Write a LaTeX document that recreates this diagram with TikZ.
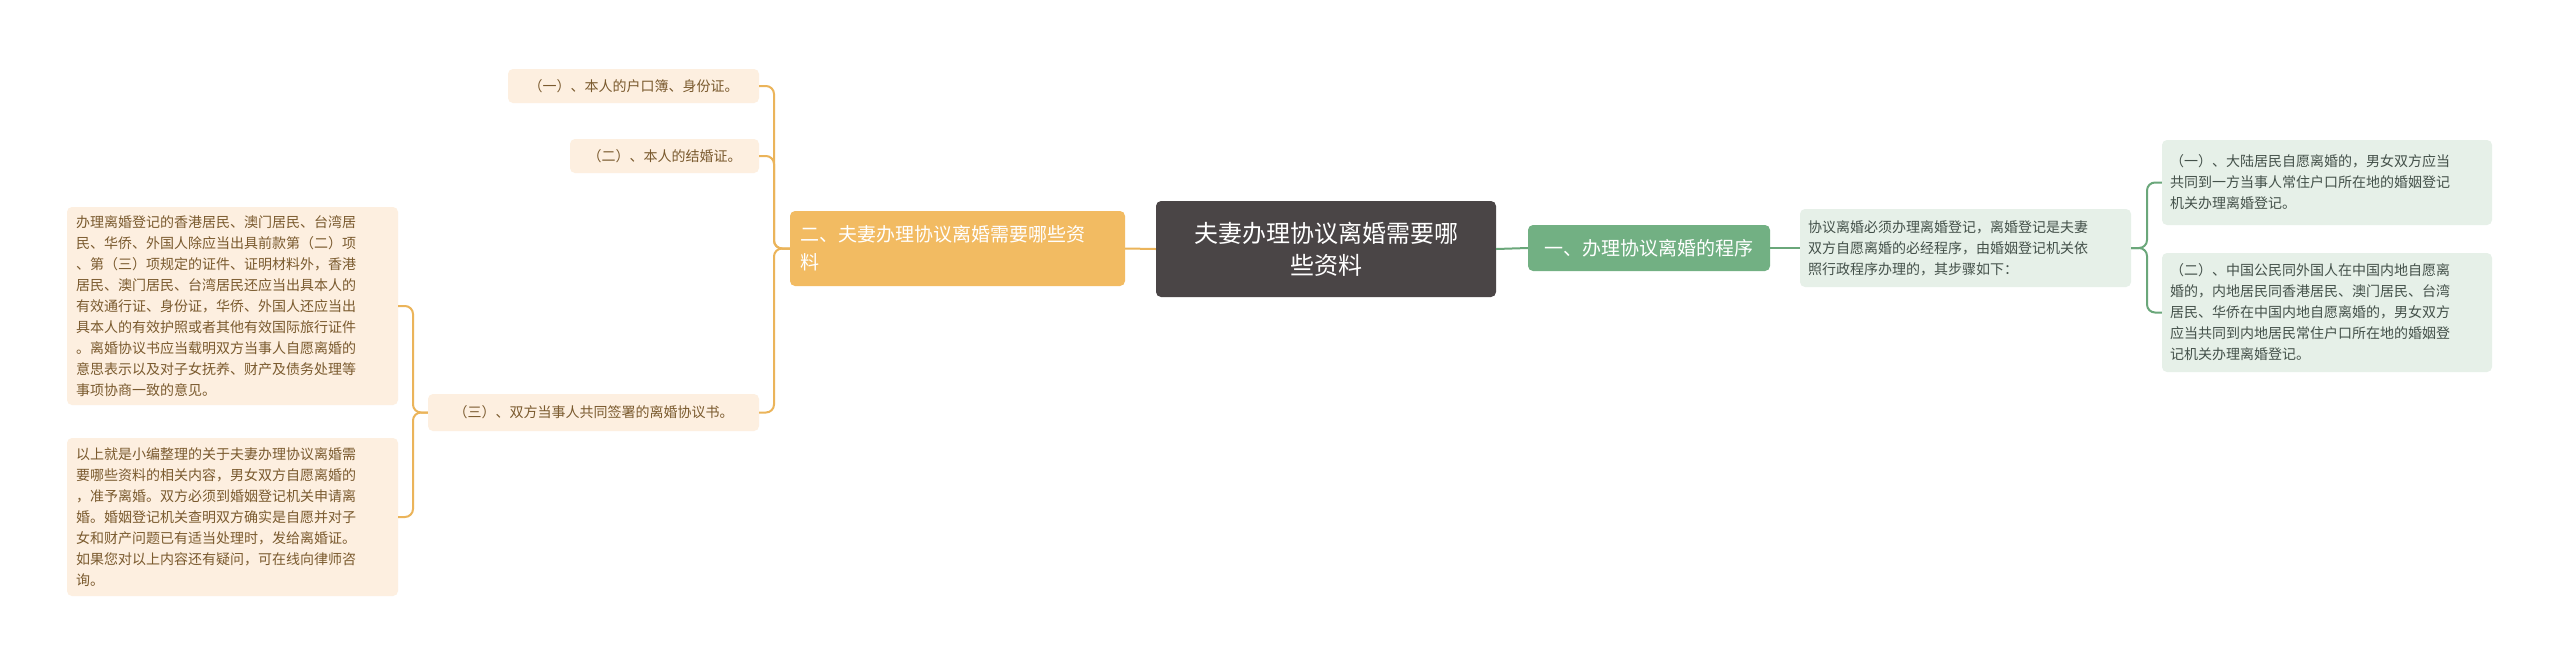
\documentclass[tikz,border=0pt]{standalone}
\usepackage{fontspec}
\setmainfont{Noto Sans CJK SC}
\usetikzlibrary{calc}
\definecolor{ctr}{HTML}{4A4546}
\definecolor{org}{HTML}{F2BB62}
\definecolor{orgl}{HTML}{FDEFE0}
\definecolor{orgt}{HTML}{7A5A2E}
\definecolor{orgline}{HTML}{EBB45A}
\definecolor{grn}{HTML}{72B083}
\definecolor{grnl}{HTML}{E6F0E8}
\definecolor{grnt}{HTML}{44514A}
\definecolor{grnline}{HTML}{6AA77A}
\tikzset{
  box/.style={rounded corners=5pt, inner sep=0pt, align=left},
  oleaf/.style={box, fill=orgl, text=orgt, font=\fontsize{14}{21}\selectfont},
  gleaf/.style={box, fill=grnl, text=grnt, font=\fontsize{14}{21}\selectfont},
  oline/.style={draw=orgline, line width=2pt, rounded corners=8pt},
  gline/.style={draw=grnline, line width=2pt, rounded corners=8pt},
}
\begin{document}
\begin{tikzpicture}[x=1pt,y=-1pt]
\useasboundingbox (0,0) rectangle (2560,665);
\fill[white] (0,0) rectangle (2560,665);
% center
\node[box, fill=ctr, text=white, minimum width=340, minimum height=96, align=center, font=\fontsize{24}{32}\selectfont] (c) at (1326,249) {夫妻办理协议离婚需要哪\\些资料};
% left main
\node[box, fill=org, text=white, minimum width=335, minimum height=75, text width=315, font=\fontsize{19}{28}\selectfont] (lm) at (957.5,248.5) {二、夫妻办理协议离婚需要哪些资\\料};
% right main
\node[box, fill=grn, text=white, minimum width=242, minimum height=46, align=center, font=\fontsize{19}{26}\selectfont] (rm) at (1649,248) {一、办理协议离婚的程序};
% green desc
\node[gleaf, minimum width=331, minimum height=78, text width=315] (gd) at (1965.5,248) {协议离婚必须办理离婚登记，离婚登记是夫妻\\双方自愿离婚的必经程序，由婚姻登记机关依\\照行政程序办理的，其步骤如下：};
\node[gleaf, minimum width=330, minimum height=85, text width=314] (g1) at (2327,182.5) {（一）、大陆居民自愿离婚的，男女双方应当\\共同到一方当事人常住户口所在地的婚姻登记\\机关办理离婚登记。};
\node[gleaf, minimum width=330, minimum height=119, text width=314] (g2) at (2327,312.5) {（二）、中国公民同外国人在中国内地自愿离\\婚的，内地居民同香港居民、澳门居民、台湾\\居民、华侨在中国内地自愿离婚的，男女双方\\应当共同到内地居民常住户口所在地的婚姻登\\记机关办理离婚登记。};
% left leaves
\node[oleaf, minimum width=251, minimum height=34, align=center] (o1) at (633.5,86) {（一）、本人的户口簿、身份证。};
\node[oleaf, minimum width=189, minimum height=34, align=center] (o2) at (664.5,156) {（二）、本人的结婚证。};
\node[oleaf, minimum width=331, minimum height=37, align=center] (o3) at (593.5,412.5) {（三）、双方当事人共同签署的离婚协议书。};
\node[oleaf, minimum width=331, minimum height=198, text width=313] (b1) at (232.5,306) {办理离婚登记的香港居民、澳门居民、台湾居\\民、华侨、外国人除应当出具前款第（二）项\\、第（三）项规定的证件、证明材料外，香港\\居民、澳门居民、台湾居民还应当出具本人的\\有效通行证、身份证，华侨、外国人还应当出\\具本人的有效护照或者其他有效国际旅行证件\\。离婚协议书应当载明双方当事人自愿离婚的\\意思表示以及对子女抚养、财产及债务处理等\\事项协商一致的意见。};
\node[oleaf, minimum width=331, minimum height=158, text width=313] (b2) at (232.5,517) {以上就是小编整理的关于夫妻办理协议离婚需\\要哪些资料的相关内容，男女双方自愿离婚的\\，准予离婚。双方必须到婚姻登记机关申请离\\婚。婚姻登记机关查明双方确实是自愿并对子\\女和财产问题已有适当处理时，发给离婚证。\\如果您对以上内容还有疑问，可在线向律师咨\\询。};
% connectors
\draw[oline] (c.west) -- (lm.east);
\draw[gline] (c.east) -- (rm.west);
\draw[gline] (rm.east) -- (gd.west);
\coordinate (lb) at (774,248.5);
\coordinate (gb) at (2147,248);
\coordinate (ob) at (413,412.5);
\foreach \t in {o1,o2,o3} \draw[oline] (lm.west) -| (lb |- \t.east) -- (\t.east);
\foreach \t in {g1,g2} \draw[gline] (gd.east) -| (gb |- \t.west) -- (\t.west);
\foreach \t in {b1,b2} \draw[oline] (o3.west) -| (ob |- \t.east) -- (\t.east);
\end{tikzpicture}
\end{document}
